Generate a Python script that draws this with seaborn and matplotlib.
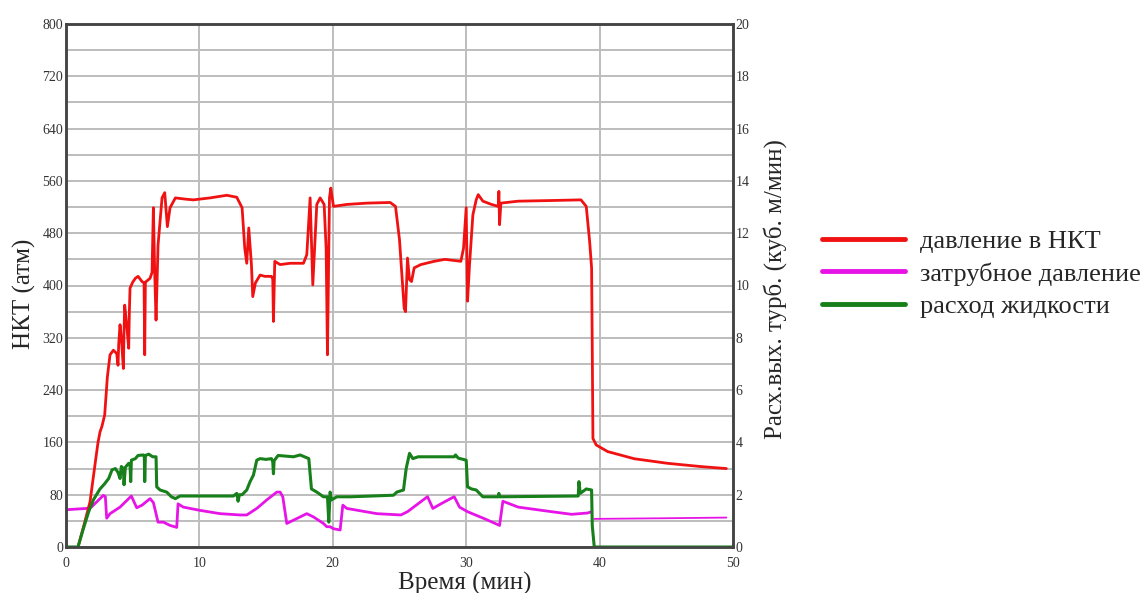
import numpy as np
import pandas as pd
import seaborn as sns
from matplotlib import pyplot as plt
from matplotlib.lines import Line2D
from matplotlib.ticker import MultipleLocator

# --- data ---
# tubing pressure (atm), left axis
red_t = [0.9, 1.3, 1.8, 2.2, 2.4, 2.55, 2.7, 2.9, 3.1, 3.3, 3.55, 3.8, 3.9, 3.95, 4.05, 4.15,
         4.3, 4.35, 4.4, 4.55, 4.7, 4.75, 4.8, 5.0, 5.2, 5.4, 5.7, 5.85, 5.9, 5.95, 6.3, 6.45,
         6.55, 6.65, 6.75, 6.9, 7.2, 7.4, 7.6, 7.8, 8.2, 9.0, 9.55, 10.8, 12.05, 12.8, 13.2,
         13.4, 13.55, 13.7, 13.9, 14.0, 14.2, 14.55, 14.9, 15.4, 15.5, 15.55, 15.65, 16.05,
         16.8, 17.8, 18.05, 18.3, 18.5, 18.8, 19.05, 19.35, 19.5, 19.6, 19.75, 19.85, 20.05,
         21.05, 22.55, 24.3, 24.7, 25.0, 25.2, 25.35, 25.45, 25.6, 25.75, 25.9, 26.1, 26.6,
         27.6, 28.4, 29.6, 29.8, 30.0, 30.1, 30.25, 30.5, 30.75, 30.9, 31.25, 31.9, 32.4,
         32.45, 32.5, 32.6, 33.9, 36.4, 38.6, 39.0, 39.25, 39.4, 39.45, 39.5, 39.75, 40.6,
         42.6, 45.1, 47.6, 49.5]
red_v = [0, 30, 69, 130, 160, 176, 185, 202, 260, 294, 301, 296, 278, 310, 340, 320,
         273, 330, 370, 340, 304, 360, 396, 405, 411, 414, 406, 404, 294, 405, 411, 420,
         519, 420, 347, 462, 534, 542, 490, 519, 534, 532, 531, 534, 538, 535, 519,
         457, 434, 488, 432, 383, 404, 416, 414, 414, 410, 345, 437, 432,
         434, 434, 447, 534, 401, 524, 534, 524, 457, 294, 534, 549, 521,
         524, 526, 527, 521, 470, 410, 365, 360, 442, 409, 406, 427, 432,
         437, 440, 437, 457, 519, 376, 432, 508, 531, 539, 529, 524, 521,
         544, 493, 526, 529, 530, 531, 521, 468, 427, 304, 166, 156, 146,
         135, 128, 123, 120]

# annulus pressure (atm), left axis
mag_t = [0, 1.55, 1.9, 2.8, 2.95, 3.05, 3.3, 4.05, 4.9, 5.3, 5.7, 6.3, 6.55, 6.9, 7.3, 7.8,
         8.3, 8.4, 8.8, 10.05, 11.55, 13.05, 13.55, 14.3, 15.05, 15.8, 16.05, 16.25, 16.55,
         17.05, 18.05, 18.55, 19.3, 19.55, 19.8, 20.05, 20.55, 20.75, 21.05, 23.3, 25.1,
         25.6, 27.1, 27.5, 28.1, 29.1, 29.5, 30.1, 31.4, 32.5, 32.75, 33.9, 36.4, 37.9,
         39.1, 39.4]
mag_v = [57, 59, 61, 79, 77, 44, 51, 61, 78, 60, 64, 74, 68, 38, 38, 33,
         30, 66, 61, 56, 51, 49, 49, 59, 72, 84, 84, 77, 36,
         41, 51, 46, 36, 31, 31, 28, 26, 64, 59, 51, 49,
         54, 77, 59, 66, 77, 61, 54, 43, 33, 70, 61, 54, 50,
         52, 54]
mag2_t = [39.6, 45.0, 49.5]
mag2_v = [43, 44, 45]

# fluid flow rate (m3/min), right axis
grn_t = [0, 0.9, 1.3, 1.7, 2.05, 2.55, 2.9, 3.2, 3.45, 3.7, 3.9, 4.05, 4.15, 4.3, 4.35,
         4.45, 4.7, 4.8, 4.85, 4.9, 5.2, 5.4, 5.8, 5.87, 5.9, 5.95, 6.2, 6.5, 6.75, 6.8,
         7.05, 7.55, 7.9, 8.2, 8.55, 9.55, 12.55, 12.8, 12.9, 13.0, 13.2, 13.55, 13.8,
         14.05, 14.3, 14.55, 15.0, 15.4, 15.5, 15.55, 15.6, 15.9, 17.05, 17.55, 18.2,
         18.4, 18.8, 19.3, 19.6, 19.7, 19.8, 19.9, 20.3, 21.3, 24.55, 24.8, 25.3, 25.5,
         25.75, 26.0, 26.4, 29.1, 29.2, 29.4, 30.0, 30.1, 30.4, 30.75, 31.25, 32.4,
         32.45, 32.5, 38.4, 38.45, 38.55, 39.0, 39.4, 39.45, 39.6, 50.0]
grn_v = [0, 0, 0.70, 1.35, 1.80, 2.22, 2.42, 2.62, 2.95, 3.00, 2.85, 2.62, 3.08, 3.00, 2.38,
         3.05, 3.20, 3.15, 2.50, 3.32, 3.38, 3.50, 3.52, 3.50, 2.50, 3.50, 3.55, 3.45, 3.45, 2.30,
         2.18, 2.10, 1.92, 1.85, 1.95, 1.95, 1.95, 2.05, 1.75, 2.00, 2.00, 2.18, 2.50,
         2.75, 3.32, 3.38, 3.35, 3.38, 3.25, 2.80, 3.30, 3.50, 3.45, 3.52, 3.38,
         2.22, 2.10, 1.92, 1.92, 0.95, 2.10, 1.80, 1.92, 1.92, 1.98, 2.10, 2.18, 3.00,
         3.58, 3.38, 3.45, 3.45, 3.52, 3.40, 3.32, 2.30, 2.22, 2.18, 1.92, 1.92,
         2.05, 1.92, 1.95, 2.50, 2.05, 2.22, 2.18, 0.82, 0, 0]

labels = ["давление в НКТ", "затрубное давление", "расход жидкости"]
RED, MAG, GRN = "#f01212", "#e614e6", "#17801a"

sns.set_style("white")
plt.rcParams["font.family"] = ["Liberation Serif", "DejaVu Serif"]

fig = plt.figure(figsize=(11.43, 5.93), dpi=100)
ax = fig.add_axes([66 / 1143, 1 - 547 / 593, 667 / 1143, 523 / 593])
ax2 = ax.twinx()

red = pd.DataFrame({"t": red_t, "p": red_v})
mag = pd.DataFrame({"t": mag_t, "p": mag_v})
mag2 = pd.DataFrame({"t": mag2_t, "p": mag2_v})
grn = pd.DataFrame({"t": grn_t, "q": grn_v})

sns.lineplot(data=mag, x="t", y="p", ax=ax, color=MAG, linewidth=2, estimator=None, sort=False)
sns.lineplot(data=mag2, x="t", y="p", ax=ax, color=MAG, linewidth=1.3, estimator=None, sort=False)
sns.lineplot(data=red, x="t", y="p", ax=ax, color=RED, linewidth=2, estimator=None, sort=False)
sns.lineplot(data=grn, x="t", y="q", ax=ax2, color=GRN, linewidth=2.2, estimator=None, sort=False)

ax.set_xlim(0, 50)
ax.set_ylim(0, 800)
ax2.set_ylim(0, 20)
ax.xaxis.set_major_locator(MultipleLocator(10))
ax.yaxis.set_major_locator(MultipleLocator(80))
ax.yaxis.set_minor_locator(MultipleLocator(40))
ax2.yaxis.set_major_locator(MultipleLocator(2))

ax.grid(True, axis="x", which="major", color="#bdbdbd", linewidth=1.4)
ax.grid(True, axis="y", which="both", color="#bdbdbd", linewidth=1.4)
ax.set_axisbelow(True)
ax2.grid(False)

for a in (ax, ax2):
    a.tick_params(axis="both", which="both", length=0, pad=2, labelsize=10, labelcolor="#333333")
    a.set_xlabel("")
    a.set_ylabel("")
    for s in a.spines.values():
        s.set_color("#444444")
        s.set_linewidth(1.8)
ax.tick_params(axis="x", pad=7)

fig.text(465 / 1143, 1 - 583 / 593, "Время (мин)", ha="center", va="center", fontsize=18)
fig.text(24 / 1143, 1 - 294 / 593, "НКТ (атм)", ha="center", va="center", rotation=90, fontsize=18)
fig.text(775 / 1143, 1 - 289 / 593, "Расх.вых. турб. (куб. м/мин)", ha="center", va="center",
         rotation=90, fontsize=18)

handles = [Line2D([], [], color=c, linewidth=3.5) for c in (RED, MAG, GRN)]
fig.legend(handles, labels, loc="upper left", bbox_to_anchor=(822 / 1143, 1 - 230 / 593),
           frameon=False, fontsize=19, handlelength=3.15, handletextpad=0.57,
           labelspacing=0.33, borderpad=0, borderaxespad=0)

fig.savefig("out.png", dpi=100)
